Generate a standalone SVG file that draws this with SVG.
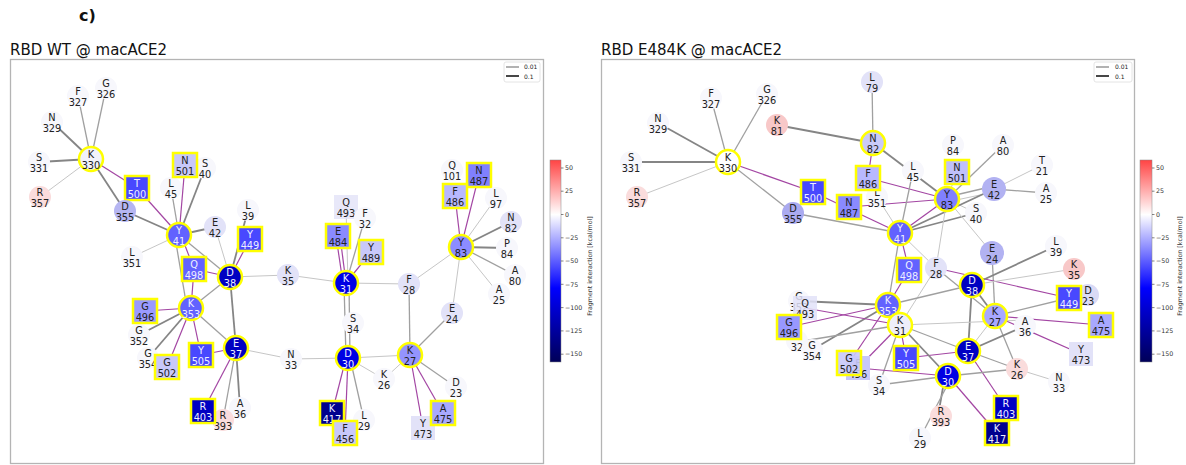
<svg xmlns="http://www.w3.org/2000/svg" width="1186" height="465" viewBox="0 0 1186 465">
<style>
  .title{font-family:"DejaVu Sans","Liberation Sans",sans-serif;font-size:15px;fill:#111}
  .frame{fill:none;stroke:#b4b4b4;stroke-width:1.3}
  .t{font-family:"DejaVu Sans","Liberation Sans",sans-serif;font-size:9.8px;fill:#222;text-anchor:middle}
  .tw{fill:#eeeeff}
  .b{stroke:#ffff00;stroke-width:2.5}
  .c0{fill:#f7f7fc}
  .c1{fill:#e2e2f8}
  .c2{fill:#c8c8fa}
  .c3{fill:#a8a8ff}
  .c35{fill:#8a8aff}
  .c4{fill:#6262ff}
  .c5{fill:#4848ff}
  .c6{fill:#0000e4}
  .c7{fill:#0000c2}
  .c8{fill:#00008e}
  .cw{fill:#f2f2fb}
  .r1{fill:#fadcdc}
  .r2{fill:#f8c8c8}
  .g1{stroke:#c6c6c6;stroke-width:1}
  .g2{stroke:#a0a0a0;stroke-width:1.3}
  .g3{stroke:#858585;stroke-width:1.8}
  .p{stroke:#a346a3;stroke-width:1.2}
  .lg{font-family:"DejaVu Sans","Liberation Sans",sans-serif;font-size:6px;fill:#222}
  .tick{font-family:"DejaVu Sans","Liberation Sans",sans-serif;font-size:6.3px;fill:#333}
  .cbl{font-family:"DejaVu Sans","Liberation Sans",sans-serif;font-size:6.3px;fill:#333;text-anchor:middle}
</style>
<defs>
  <linearGradient id="seismic" x1="0" y1="0" x2="0" y2="1">
    <stop offset="0" stop-color="#ff4444"/>
    <stop offset="0.27" stop-color="#ffffff"/>
    <stop offset="0.634" stop-color="#0000ff"/>
    <stop offset="1" stop-color="#000058"/>
  </linearGradient>
</defs>
<rect width="1186" height="465" fill="#ffffff"/>
<text x="79" y="21" font-family="DejaVu Sans, Liberation Sans, sans-serif" font-size="16" font-weight="bold" fill="#111">c)</text>

<!-- panel titles and frames -->
<text class="title" x="10" y="55">RBD WT @ macACE2</text>
<rect class="frame" x="10.5" y="59.5" width="533" height="404"/>
<text class="title" x="601" y="55">RBD E484K @ macACE2</text>
<rect class="frame" x="601.5" y="59.5" width="533" height="404"/>

<!-- legends -->
<g id="legend-wt">
  <rect x="504" y="62" width="36" height="20" rx="2" fill="#fff" stroke="#dddddd" stroke-width="0.8"/>
  <line x1="506" y1="67" x2="519" y2="67" stroke="#888" stroke-width="1.3"/>
  <text class="lg" x="524" y="69">0.01</text>
  <line x1="506" y1="76" x2="519" y2="76" stroke="#333" stroke-width="1.8"/>
  <text class="lg" x="524" y="78.5">0.1</text>
</g>
<g id="legend-e484k">
  <rect x="1094" y="62" width="38" height="20" rx="2" fill="#fff" stroke="#dddddd" stroke-width="0.8"/>
  <line x1="1096" y1="67" x2="1109" y2="67" stroke="#888" stroke-width="1.3"/>
  <text class="lg" x="1115" y="69">0.01</text>
  <line x1="1096" y1="76" x2="1109" y2="76" stroke="#333" stroke-width="1.8"/>
  <text class="lg" x="1115" y="78.5">0.1</text>
</g>

<!-- colour bars -->
<g id="colorbar-wt">
  <rect x="550" y="160" width="11" height="202" fill="url(#seismic)" stroke="#888" stroke-width="0.5"/>
  <g stroke="#333" stroke-width="0.6">
    <line x1="561" y1="168" x2="563.5" y2="168"/><line x1="561" y1="191.2" x2="563.5" y2="191.2"/>
    <line x1="561" y1="214.5" x2="563.5" y2="214.5"/><line x1="561" y1="237.8" x2="563.5" y2="237.8"/>
    <line x1="561" y1="261" x2="563.5" y2="261"/><line x1="561" y1="284.3" x2="563.5" y2="284.3"/>
    <line x1="561" y1="307.6" x2="563.5" y2="307.6"/><line x1="561" y1="330.9" x2="563.5" y2="330.9"/>
    <line x1="561" y1="354.2" x2="563.5" y2="354.2"/>
  </g>
  <text class="tick" x="565" y="170.2">50</text>
  <text class="tick" x="565" y="193.4">25</text>
  <text class="tick" x="565" y="216.7">0</text>
  <text class="tick" x="565" y="240">−25</text>
  <text class="tick" x="565" y="263.2">−50</text>
  <text class="tick" x="565" y="286.5">−75</text>
  <text class="tick" x="565" y="309.8">−100</text>
  <text class="tick" x="565" y="333.1">−125</text>
  <text class="tick" x="565" y="356.4">−150</text>
  <text class="cbl" transform="translate(592,266) rotate(-90)">Fragment interaction [kcal/mol]</text>
</g>
<g id="colorbar-e484k">
  <rect x="1140" y="160" width="12" height="202" fill="url(#seismic)" stroke="#888" stroke-width="0.5"/>
  <g stroke="#333" stroke-width="0.6">
    <line x1="1152" y1="168" x2="1154.5" y2="168"/><line x1="1152" y1="191.2" x2="1154.5" y2="191.2"/>
    <line x1="1152" y1="214.5" x2="1154.5" y2="214.5"/><line x1="1152" y1="237.8" x2="1154.5" y2="237.8"/>
    <line x1="1152" y1="261" x2="1154.5" y2="261"/><line x1="1152" y1="284.3" x2="1154.5" y2="284.3"/>
    <line x1="1152" y1="307.6" x2="1154.5" y2="307.6"/><line x1="1152" y1="330.9" x2="1154.5" y2="330.9"/>
    <line x1="1152" y1="354.2" x2="1154.5" y2="354.2"/>
  </g>
  <text class="tick" x="1156" y="170.2">50</text>
  <text class="tick" x="1156" y="193.4">25</text>
  <text class="tick" x="1156" y="216.7">0</text>
  <text class="tick" x="1156" y="240">−25</text>
  <text class="tick" x="1156" y="263.2">−50</text>
  <text class="tick" x="1156" y="286.5">−75</text>
  <text class="tick" x="1156" y="309.8">−100</text>
  <text class="tick" x="1156" y="333.1">−125</text>
  <text class="tick" x="1156" y="356.4">−150</text>
  <text class="cbl" transform="translate(1182,266) rotate(-90)">Fragment interaction [kcal/mol]</text>
</g>

<!-- interaction edges -->
<g id="connectors" fill="none">
  <g id="edges-wt">
    <line class="g2" x1="91" y1="159" x2="106" y2="88"/>
    <line class="g2" x1="91" y1="159" x2="78" y2="96"/>
    <line class="g3" x1="91" y1="159" x2="52" y2="122"/>
    <line class="g3" x1="91" y1="159" x2="39" y2="162"/>
    <line class="g1" x1="91" y1="159" x2="40" y2="197"/>
    <line class="g3" x1="91" y1="159" x2="125" y2="211"/>
    <line class="p" x1="91" y1="159" x2="137" y2="188"/>
    <line class="p" x1="137" y1="188" x2="179" y2="235"/>
    <line class="g3" x1="125" y1="211" x2="179" y2="235"/>
    <line class="g2" x1="179" y1="235" x2="171" y2="188"/>
    <line class="p" x1="179" y1="235" x2="185" y2="165"/>
    <line class="g3" x1="179" y1="235" x2="205" y2="168"/>
    <line class="g3" x1="179" y1="235" x2="215" y2="227"/>
    <line class="g1" x1="179" y1="235" x2="132" y2="257"/>
    <line class="g2" x1="179" y1="235" x2="230" y2="277"/>
    <line class="p" x1="181" y1="235" x2="194" y2="269"/>
    <line class="g2" x1="175" y1="237" x2="187" y2="308"/>
    <line class="g1" x1="230" y1="277" x2="215" y2="227"/>
    <line class="g3" x1="230" y1="277" x2="248" y2="210"/>
    <line class="p" x1="230" y1="277" x2="250" y2="239"/>
    <line class="p" x1="230" y1="277" x2="194" y2="269"/>
    <line class="g1" x1="230" y1="277" x2="288" y2="275"/>
    <line class="g2" x1="230" y1="277" x2="191" y2="308"/>
    <line class="g3" x1="230" y1="277" x2="236" y2="348"/>
    <line class="p" x1="191" y1="308" x2="194" y2="269"/>
    <line class="p" x1="191" y1="308" x2="145" y2="311"/>
    <line class="g3" x1="191" y1="308" x2="139" y2="335"/>
    <line class="g3" x1="191" y1="308" x2="148" y2="358"/>
    <line class="p" x1="191" y1="308" x2="167" y2="367"/>
    <line class="p" x1="191" y1="308" x2="201" y2="355"/>
    <line class="g2" x1="191" y1="308" x2="236" y2="348"/>
    <line class="p" x1="236" y1="348" x2="201" y2="355"/>
    <line class="p" x1="236" y1="348" x2="203" y2="411"/>
    <line class="g2" x1="236" y1="348" x2="223" y2="420"/>
    <line class="g3" x1="236" y1="348" x2="240" y2="408"/>
    <line class="g1" x1="236" y1="348" x2="291" y2="359"/>
    <line class="g1" x1="288" y1="275" x2="346" y2="283"/>
    <line class="p" x1="343" y1="283" x2="336" y2="236"/>
    <line class="p" x1="346" y1="283" x2="340" y2="236"/>
    <line class="g1" x1="348" y1="283" x2="346" y2="207"/>
    <line class="g2" x1="346" y1="283" x2="365" y2="218"/>
    <line class="p" x1="346" y1="283" x2="371" y2="252"/>
    <line class="g1" x1="346" y1="283" x2="409" y2="284"/>
    <line class="g2" x1="344" y1="283" x2="346" y2="358"/>
    <line class="g2" x1="349" y1="283" x2="350" y2="358"/>
    <line class="g1" x1="348" y1="358" x2="291" y2="359"/>
    <line class="g1" x1="348" y1="358" x2="410" y2="355"/>
    <line class="g1" x1="348" y1="358" x2="384" y2="379"/>
    <line class="p" x1="346" y1="358" x2="332" y2="413"/>
    <line class="p" x1="348" y1="358" x2="345" y2="433"/>
    <line class="g2" x1="350" y1="358" x2="364" y2="420"/>
    <line class="g1" x1="410" y1="355" x2="384" y2="379"/>
    <line class="g2" x1="410" y1="355" x2="409" y2="284"/>
    <line class="g2" x1="410" y1="355" x2="452" y2="313"/>
    <line class="g2" x1="410" y1="355" x2="456" y2="387"/>
    <line class="p" x1="410" y1="355" x2="443" y2="413"/>
    <line class="p" x1="410" y1="355" x2="423" y2="428"/>
    <line class="g1" x1="409" y1="284" x2="461" y2="247"/>
    <line class="g1" x1="461" y1="247" x2="452" y2="313"/>
    <line class="p" x1="461" y1="247" x2="455" y2="196"/>
    <line class="p" x1="461" y1="247" x2="479" y2="175"/>
    <line class="g1" x1="461" y1="247" x2="496" y2="198"/>
    <line class="g3" x1="461" y1="247" x2="511" y2="222"/>
    <line class="g3" x1="461" y1="247" x2="507" y2="248"/>
    <line class="g2" x1="461" y1="247" x2="515" y2="275"/>
    <line class="g1" x1="461" y1="247" x2="499" y2="294"/>
  </g>
  <g id="edges-e484k">
    <line class="g3" x1="728" y1="162" x2="658" y2="123"/>
    <line class="g2" x1="728" y1="162" x2="711" y2="98"/>
    <line class="g2" x1="728" y1="162" x2="767" y2="94"/>
    <line class="g3" x1="728" y1="162" x2="631" y2="162"/>
    <line class="g1" x1="728" y1="162" x2="637" y2="197"/>
    <line class="g2" x1="728" y1="162" x2="793" y2="213"/>
    <line class="p" x1="728" y1="162" x2="813" y2="192"/>
    <line class="p" x1="813" y1="192" x2="900" y2="233"/>
    <line class="p" x1="849" y1="207" x2="947" y2="199"/>
    <line class="g2" x1="793" y1="213" x2="900" y2="233"/>
    <line class="g3" x1="777" y1="125" x2="873" y2="143"/>
    <line class="g2" x1="872" y1="82" x2="873" y2="143"/>
    <line class="p" x1="873" y1="143" x2="868" y2="178"/>
    <line class="g3" x1="873" y1="143" x2="947" y2="199"/>
    <line class="p" x1="868" y1="178" x2="947" y2="199"/>
    <line class="g2" x1="913" y1="171" x2="900" y2="233"/>
    <line class="g1" x1="877" y1="197" x2="900" y2="233"/>
    <line class="g1" x1="957" y1="172" x2="947" y2="199"/>
    <line class="g2" x1="1003" y1="145" x2="947" y2="199"/>
    <line class="g1" x1="994" y1="189" x2="1042" y2="165"/>
    <line class="g2" x1="994" y1="189" x2="1046" y2="193"/>
    <line class="g2" x1="947" y1="197" x2="994" y2="186"/>
    <line class="g1" x1="947" y1="202" x2="994" y2="192"/>
    <line class="g1" x1="947" y1="199" x2="976" y2="213"/>
    <line class="p" x1="900" y1="233" x2="947" y2="199"/>
    <line class="g3" x1="900" y1="233" x2="994" y2="189"/>
    <line class="g3" x1="900" y1="233" x2="976" y2="213"/>
    <line class="p" x1="900" y1="233" x2="909" y2="270"/>
    <line class="g1" x1="900" y1="233" x2="936" y2="268"/>
    <line class="g2" x1="900" y1="233" x2="888" y2="305"/>
    <line class="g1" x1="947" y1="199" x2="936" y2="268"/>
    <line class="g1" x1="947" y1="199" x2="992" y2="253"/>
    <line class="g2" x1="992" y1="253" x2="995" y2="316"/>
    <line class="p" x1="936" y1="268" x2="1069" y2="298"/>
    <line class="g2" x1="936" y1="268" x2="995" y2="316"/>
    <line class="g1" x1="936" y1="268" x2="900" y2="325"/>
    <line class="g3" x1="972" y1="285" x2="1056" y2="246"/>
    <line class="g1" x1="972" y1="285" x2="1074" y2="269"/>
    <line class="g2" x1="972" y1="285" x2="888" y2="305"/>
    <line class="g3" x1="972" y1="285" x2="968" y2="351"/>
    <line class="g3" x1="972" y1="285" x2="995" y2="316"/>
    <line class="g2" x1="995" y1="316" x2="1069" y2="298"/>
    <line class="p" x1="995" y1="316" x2="1101" y2="325"/>
    <line class="p" x1="995" y1="316" x2="1081" y2="354"/>
    <line class="g2" x1="995" y1="316" x2="1017" y2="369"/>
    <line class="g1" x1="995" y1="316" x2="968" y2="351"/>
    <line class="g3" x1="968" y1="351" x2="1025" y2="326"/>
    <line class="g1" x1="900" y1="325" x2="1025" y2="320"/>
    <line class="g2" x1="968" y1="351" x2="1017" y2="369"/>
    <line class="p" x1="968" y1="351" x2="1006" y2="408"/>
    <line class="p" x1="968" y1="351" x2="906" y2="358"/>
    <line class="g2" x1="968" y1="351" x2="900" y2="325"/>
    <line class="g3" x1="888" y1="305" x2="799" y2="301"/>
    <line class="p" x1="888" y1="305" x2="909" y2="270"/>
    <line class="p" x1="888" y1="305" x2="789" y2="327"/>
    <line class="g3" x1="888" y1="305" x2="812" y2="350"/>
    <line class="p" x1="888" y1="305" x2="849" y2="363"/>
    <line class="p" x1="900" y1="325" x2="805" y2="308"/>
    <line class="g2" x1="900" y1="325" x2="797" y2="342"/>
    <line class="p" x1="900" y1="325" x2="858" y2="368"/>
    <line class="g2" x1="900" y1="325" x2="879" y2="385"/>
    <line class="p" x1="900" y1="325" x2="906" y2="358"/>
    <line class="g3" x1="900" y1="325" x2="948" y2="376"/>
    <line class="g2" x1="948" y1="376" x2="879" y2="385"/>
    <line class="p" x1="948" y1="376" x2="858" y2="368"/>
    <line class="g2" x1="948" y1="376" x2="1017" y2="369"/>
    <line class="g3" x1="945" y1="376" x2="938" y2="416"/>
    <line class="g2" x1="951" y1="378" x2="920" y2="438"/>
    <line class="p" x1="948" y1="376" x2="997" y2="433"/>
    <line class="g1" x1="1017" y1="369" x2="1059" y2="382"/>
  </g>
</g>

<!-- WT residue nodes -->
<g id="wt-G326"><circle class="c0" cx="106" cy="88" r="11"/><text class="t" x="106" y="86.5">G<tspan x="106" dy="11">326</tspan></text></g>
<g id="wt-F327"><circle class="c0" cx="78" cy="96" r="11"/><text class="t" x="78" y="94.5">F<tspan x="78" dy="11">327</tspan></text></g>
<g id="wt-N329"><circle class="c0" cx="52" cy="122" r="11"/><text class="t" x="52" y="120.5">N<tspan x="52" dy="11">329</tspan></text></g>
<g id="wt-S331"><circle class="c0" cx="39" cy="162" r="11"/><text class="t" x="39" y="160.5">S<tspan x="39" dy="11">331</tspan></text></g>
<g id="wt-R357"><circle class="r1" cx="40" cy="197" r="11"/><text class="t" x="40" y="195.5">R<tspan x="40" dy="11">357</tspan></text></g>
<g id="wt-K330"><circle class="cw b" cx="91" cy="159" r="12"/><text class="t" x="91" y="157.5">K<tspan x="91" dy="11">330</tspan></text></g>
<g id="wt-S40"><circle class="c0" cx="205" cy="168" r="11"/><text class="t" x="205" y="166.5">S<tspan x="205" dy="11">40</tspan></text></g>
<g id="wt-L45"><circle class="c0" cx="171" cy="188" r="11"/><text class="t" x="171" y="186.5">L<tspan x="171" dy="11">45</tspan></text></g>
<g id="wt-N501"><rect class="c2 b" x="173" y="153" width="24" height="24"/><text class="t" x="185" y="163.5">N<tspan x="185" dy="11">501</tspan></text></g>
<g id="wt-T500"><rect class="c5 b" x="125" y="176" width="24" height="24"/><text class="t tw" x="137" y="186.5">T<tspan x="137" dy="11">500</tspan></text></g>
<g id="wt-D355"><circle fill="#b6b6f2" cx="125" cy="211" r="11"/><text class="t" x="125" y="209.5">D<tspan x="125" dy="11">355</tspan></text></g>
<g id="wt-E42"><circle class="c1" cx="215" cy="227" r="11"/><text class="t" x="215" y="225.5">E<tspan x="215" dy="11">42</tspan></text></g>
<g id="wt-L39"><circle class="c0" cx="248" cy="210" r="11"/><text class="t" x="248" y="208.5">L<tspan x="248" dy="11">39</tspan></text></g>
<g id="wt-L351"><circle class="c0" cx="132" cy="257" r="11"/><text class="t" x="132" y="255.5">L<tspan x="132" dy="11">351</tspan></text></g>
<g id="wt-Y41"><circle class="c4 b" cx="179" cy="235" r="12"/><text class="t tw" x="179" y="233.5">Y<tspan x="179" dy="11">41</tspan></text></g>
<g id="wt-Y449"><rect class="c5 b" x="238" y="227" width="24" height="24"/><text class="t tw" x="250" y="237.5">Y<tspan x="250" dy="11">449</tspan></text></g>
<g id="wt-Q498"><rect class="c4 b" x="182" y="257" width="24" height="24"/><text class="t tw" x="194" y="267.5">Q<tspan x="194" dy="11">498</tspan></text></g>
<g id="wt-D38"><circle class="c7 b" cx="230" cy="277" r="12"/><text class="t tw" x="230" y="275.5">D<tspan x="230" dy="11">38</tspan></text></g>
<g id="wt-K35"><circle class="c1" cx="288" cy="275" r="11"/><text class="t" x="288" y="273.5">K<tspan x="288" dy="11">35</tspan></text></g>
<g id="wt-G352"><circle class="c0" cx="139" cy="335" r="11"/><text class="t" x="139" y="333.5">G<tspan x="139" dy="11">352</tspan></text></g>
<g id="wt-G354"><circle class="c0" cx="148" cy="358" r="11"/><text class="t" x="148" y="356.5">G<tspan x="148" dy="11">354</tspan></text></g>
<g id="wt-G496"><rect fill="#9a9aff" class="b" x="133" y="299" width="24" height="24"/><text class="t" x="145" y="309.5">G<tspan x="145" dy="11">496</tspan></text></g>
<g id="wt-K353"><circle class="c4 b" cx="191" cy="308" r="12"/><text class="t tw" x="191" y="306.5">K<tspan x="191" dy="11">353</tspan></text></g>
<g id="wt-G502"><rect class="c2 b" x="155" y="355" width="24" height="24"/><text class="t" x="167" y="365.5">G<tspan x="167" dy="11">502</tspan></text></g>
<g id="wt-Y505"><rect class="c5 b" x="189" y="343" width="24" height="24"/><text class="t tw" x="201" y="353.5">Y<tspan x="201" dy="11">505</tspan></text></g>
<g id="wt-E37"><circle class="c7 b" cx="236" cy="348" r="12"/><text class="t tw" x="236" y="346.5">E<tspan x="236" dy="11">37</tspan></text></g>
<g id="wt-A36"><circle class="c0" cx="240" cy="408" r="11"/><text class="t" x="240" y="406.5">A<tspan x="240" dy="11">36</tspan></text></g>
<g id="wt-R393"><circle class="r1" cx="223" cy="420" r="11"/><text class="t" x="223" y="418.5">R<tspan x="223" dy="11">393</tspan></text></g>
<g id="wt-R403"><rect class="c7 b" x="191" y="399" width="24" height="24"/><text class="t tw" x="203" y="409.5">R<tspan x="203" dy="11">403</tspan></text></g>
<g id="wt-Q493"><rect class="c1" x="334" y="195" width="24" height="24" fill-opacity="0.8"/><text class="t" x="346" y="205.5">Q<tspan x="346" dy="11">493</tspan></text></g>
<g id="wt-F32"><circle class="c0" cx="365" cy="218" r="11"/><text class="t" x="365" y="216.5">F<tspan x="365" dy="11">32</tspan></text></g>
<g id="wt-E484"><rect class="c35 b" x="326" y="224" width="24" height="24"/><text class="t" x="338" y="234.5">E<tspan x="338" dy="11">484</tspan></text></g>
<g id="wt-Y489"><rect class="c2 b" x="359" y="240" width="24" height="24"/><text class="t" x="371" y="250.5">Y<tspan x="371" dy="11">489</tspan></text></g>
<g id="wt-K31"><circle class="c6 b" cx="346" cy="283" r="12"/><text class="t tw" x="346" y="281.5">K<tspan x="346" dy="11">31</tspan></text></g>
<g id="wt-F28"><circle class="c1" cx="409" cy="284" r="11"/><text class="t" x="409" y="282.5">F<tspan x="409" dy="11">28</tspan></text></g>
<g id="wt-Q101"><circle class="c0" cx="452" cy="170" r="11"/><text class="t" x="452" y="168.5">Q<tspan x="452" dy="11">101</tspan></text></g>
<g id="wt-N487"><rect fill="#8080ff" class="b" x="467" y="163" width="24" height="24"/><text class="t" x="479" y="173.5">N<tspan x="479" dy="11">487</tspan></text></g>
<g id="wt-F486"><rect fill="#b8b8ff" class="b" x="443" y="184" width="24" height="24"/><text class="t" x="455" y="194.5">F<tspan x="455" dy="11">486</tspan></text></g>
<g id="wt-L97"><circle class="c0" cx="496" cy="198" r="11"/><text class="t" x="496" y="196.5">L<tspan x="496" dy="11">97</tspan></text></g>
<g id="wt-N82"><circle class="c1" cx="511" cy="222" r="11"/><text class="t" x="511" y="220.5">N<tspan x="511" dy="11">82</tspan></text></g>
<g id="wt-P84"><circle class="c0" cx="507" cy="248" r="11"/><text class="t" x="507" y="246.5">P<tspan x="507" dy="11">84</tspan></text></g>
<g id="wt-A80"><circle class="c0" cx="515" cy="275" r="11"/><text class="t" x="515" y="273.5">A<tspan x="515" dy="11">80</tspan></text></g>
<g id="wt-A25"><circle class="c0" cx="499" cy="294" r="11"/><text class="t" x="499" y="292.5">A<tspan x="499" dy="11">25</tspan></text></g>
<g id="wt-Y83"><circle fill="#8c8cff" class="b" cx="461" cy="247" r="12"/><text class="t" x="461" y="245.5">Y<tspan x="461" dy="11">83</tspan></text></g>
<g id="wt-E24"><circle class="c1" cx="452" cy="313" r="11"/><text class="t" x="452" y="311.5">E<tspan x="452" dy="11">24</tspan></text></g>
<g id="wt-S34"><circle class="c0" cx="353" cy="323" r="11"/><text class="t" x="353" y="321.5">S<tspan x="353" dy="11">34</tspan></text></g>
<g id="wt-N33"><circle class="c0" cx="291" cy="359" r="11"/><text class="t" x="291" y="357.5">N<tspan x="291" dy="11">33</tspan></text></g>
<g id="wt-K26"><circle class="c0" cx="384" cy="379" r="11"/><text class="t" x="384" y="377.5">K<tspan x="384" dy="11">26</tspan></text></g>
<g id="wt-D23"><circle class="c0" cx="456" cy="387" r="11"/><text class="t" x="456" y="385.5">D<tspan x="456" dy="11">23</tspan></text></g>
<g id="wt-D30"><circle class="c6 b" cx="348" cy="358" r="12"/><text class="t tw" x="348" y="356.5">D<tspan x="348" dy="11">30</tspan></text></g>
<g id="wt-K27"><circle fill="#9494ff" class="b" cx="410" cy="355" r="12"/><text class="t" x="410" y="353.5">K<tspan x="410" dy="11">27</tspan></text></g>
<g id="wt-L29"><circle class="c0" cx="364" cy="420" r="11"/><text class="t" x="364" y="418.5">L<tspan x="364" dy="11">29</tspan></text></g>
<g id="wt-K417"><rect class="c8 b" x="320" y="401" width="24" height="24"/><text class="t tw" x="332" y="411.5">K<tspan x="332" dy="11">417</tspan></text></g>
<g id="wt-F456"><rect class="c2 b" x="333" y="421" width="24" height="24"/><text class="t" x="345" y="431.5">F<tspan x="345" dy="11">456</tspan></text></g>
<g id="wt-Y473"><rect class="c1" x="411" y="416" width="24" height="24"/><text class="t" x="423" y="426.5">Y<tspan x="423" dy="11">473</tspan></text></g>
<g id="wt-A475"><rect class="c3 b" x="431" y="401" width="24" height="24"/><text class="t" x="443" y="411.5">A<tspan x="443" dy="11">475</tspan></text></g>

<!-- E484K residue nodes -->
<g id="mut-L79"><circle class="c1" cx="872" cy="82" r="11"/><text class="t" x="872" y="80.5">L<tspan x="872" dy="11">79</tspan></text></g>
<g id="mut-F327"><circle class="c0" cx="711" cy="98" r="11"/><text class="t" x="711" y="96.5">F<tspan x="711" dy="11">327</tspan></text></g>
<g id="mut-G326"><circle class="c0" cx="767" cy="94" r="11"/><text class="t" x="767" y="92.5">G<tspan x="767" dy="11">326</tspan></text></g>
<g id="mut-N329"><circle class="c0" cx="658" cy="123" r="11"/><text class="t" x="658" y="121.5">N<tspan x="658" dy="11">329</tspan></text></g>
<g id="mut-K81"><circle class="r2" cx="777" cy="125" r="11"/><text class="t" x="777" y="123.5">K<tspan x="777" dy="11">81</tspan></text></g>
<g id="mut-S331"><circle class="c0" cx="631" cy="162" r="11"/><text class="t" x="631" y="160.5">S<tspan x="631" dy="11">331</tspan></text></g>
<g id="mut-R357"><circle class="r1" cx="637" cy="197" r="11"/><text class="t" x="637" y="195.5">R<tspan x="637" dy="11">357</tspan></text></g>
<g id="mut-K330"><circle fill="#ffffff" class="b" cx="728" cy="162" r="12"/><text class="t" x="728" y="160.5">K<tspan x="728" dy="11">330</tspan></text></g>
<g id="mut-N82"><circle fill="#cacaf8" class="b" cx="873" cy="143" r="12"/><text class="t" x="873" y="141.5">N<tspan x="873" dy="11">82</tspan></text></g>
<g id="mut-P84"><circle class="c0" cx="953" cy="145" r="11"/><text class="t" x="953" y="143.5">P<tspan x="953" dy="11">84</tspan></text></g>
<g id="mut-A80"><circle class="c0" cx="1003" cy="145" r="11"/><text class="t" x="1003" y="143.5">A<tspan x="1003" dy="11">80</tspan></text></g>
<g id="mut-T21"><circle class="c0" cx="1042" cy="165" r="11"/><text class="t" x="1042" y="163.5">T<tspan x="1042" dy="11">21</tspan></text></g>
<g id="mut-A25"><circle class="c0" cx="1046" cy="193" r="11"/><text class="t" x="1046" y="191.5">A<tspan x="1046" dy="11">25</tspan></text></g>
<g id="mut-L45"><circle class="c0" cx="913" cy="171" r="11"/><text class="t" x="913" y="169.5">L<tspan x="913" dy="11">45</tspan></text></g>
<g id="mut-L351"><circle class="c0" cx="877" cy="197" r="11"/><text class="t" x="877" y="195.5">L<tspan x="877" dy="11">351</tspan></text></g>
<g id="mut-F486"><rect fill="#b8b8ff" class="b" x="856" y="166" width="24" height="24"/><text class="t" x="868" y="176.5">F<tspan x="868" dy="11">486</tspan></text></g>
<g id="mut-N501"><rect fill="#c0c0fa" class="b" x="945" y="160" width="24" height="24"/><text class="t" x="957" y="170.5">N<tspan x="957" dy="11">501</tspan></text></g>
<g id="mut-S40"><circle class="c0" cx="976" cy="213" r="11"/><text class="t" x="976" y="211.5">S<tspan x="976" dy="11">40</tspan></text></g>
<g id="mut-E42"><circle fill="#b2b2f2" cx="994" cy="189" r="12"/><text class="t" x="994" y="187.5">E<tspan x="994" dy="11">42</tspan></text></g>
<g id="mut-T500"><rect class="c5 b" x="801" y="180" width="24" height="24"/><text class="t tw" x="813" y="190.5">T<tspan x="813" dy="11">500</tspan></text></g>
<g id="mut-D355"><circle fill="#aaaaf0" cx="793" cy="213" r="11"/><text class="t" x="793" y="211.5">D<tspan x="793" dy="11">355</tspan></text></g>
<g id="mut-N487"><rect class="c35 b" x="837" y="195" width="24" height="24"/><text class="t" x="849" y="205.5">N<tspan x="849" dy="11">487</tspan></text></g>
<g id="mut-Y83"><circle fill="#8080ff" class="b" cx="947" cy="199" r="12"/><text class="t" x="947" y="197.5">Y<tspan x="947" dy="11">83</tspan></text></g>
<g id="mut-Y41"><circle class="c4 b" cx="900" cy="233" r="12"/><text class="t tw" x="900" y="231.5">Y<tspan x="900" dy="11">41</tspan></text></g>
<g id="mut-L39"><circle class="c0" cx="1056" cy="246" r="11"/><text class="t" x="1056" y="244.5">L<tspan x="1056" dy="11">39</tspan></text></g>
<g id="mut-E24"><circle fill="#b2b2f2" cx="992" cy="253" r="12"/><text class="t" x="992" y="251.5">E<tspan x="992" dy="11">24</tspan></text></g>
<g id="mut-K35"><circle class="r2" cx="1074" cy="269" r="11"/><text class="t" x="1074" y="267.5">K<tspan x="1074" dy="11">35</tspan></text></g>
<g id="mut-F28"><circle class="c1" cx="936" cy="268" r="11"/><text class="t" x="936" y="266.5">F<tspan x="936" dy="11">28</tspan></text></g>
<g id="mut-Q498"><rect class="c4 b" x="897" y="258" width="24" height="24"/><text class="t tw" x="909" y="268.5">Q<tspan x="909" dy="11">498</tspan></text></g>
<g id="mut-D38"><circle class="c7 b" cx="972" cy="285" r="12"/><text class="t tw" x="972" y="283.5">D<tspan x="972" dy="11">38</tspan></text></g>
<g id="mut-D23"><circle fill="#dadaf6" cx="1088" cy="295" r="11"/><text class="t" x="1088" y="293.5">D<tspan x="1088" dy="11">23</tspan></text></g>
<g id="mut-Y449"><rect class="c5 b" x="1057" y="286" width="24" height="24"/><text class="t tw" x="1069" y="296.5">Y<tspan x="1069" dy="11">449</tspan></text></g>
<g id="mut-A36"><circle class="c0" cx="1025" cy="326" r="11"/><text class="t" x="1025" y="324.5">A<tspan x="1025" dy="11">36</tspan></text></g>
<g id="mut-A475"><rect class="c3 b" x="1089" y="313" width="24" height="24"/><text class="t" x="1101" y="323.5">A<tspan x="1101" dy="11">475</tspan></text></g>
<g id="mut-Y473"><rect class="c1" x="1069" y="342" width="24" height="24"/><text class="t" x="1081" y="352.5">Y<tspan x="1081" dy="11">473</tspan></text></g>
<g id="mut-K27"><circle class="c3 b" cx="995" cy="316" r="12"/><text class="t" x="995" y="314.5">K<tspan x="995" dy="11">27</tspan></text></g>
<g id="mut-G352"><circle class="c0" cx="799" cy="301" r="11"/><text class="t" x="799" y="299.5">G<tspan x="799" dy="11">352</tspan></text></g>
<g id="mut-Q493"><rect class="c1" x="793" y="296" width="24" height="24" fill-opacity="0.85"/><text class="t" x="805" y="306.5">Q<tspan x="805" dy="11">493</tspan></text></g>
<g id="mut-F32"><circle class="c0" cx="797" cy="341" r="11"/><text class="t" x="797" y="339.5">F<tspan x="797" dy="11">32</tspan></text></g>
<g id="mut-G496"><rect fill="#9898ff" class="b" x="777" y="315" width="24" height="24"/><text class="t" x="789" y="325.5">G<tspan x="789" dy="11">496</tspan></text></g>
<g id="mut-G354"><circle class="c0" cx="812" cy="350" r="11"/><text class="t" x="812" y="348.5">G<tspan x="812" dy="11">354</tspan></text></g>
<g id="mut-K353"><circle class="c4 b" cx="888" cy="305" r="12"/><text class="t tw" x="888" y="303.5">K<tspan x="888" dy="11">353</tspan></text></g>
<g id="mut-K31"><circle fill="#eeeefa" class="b" cx="900" cy="325" r="12"/><text class="t" x="900" y="323.5">K<tspan x="900" dy="11">31</tspan></text></g>
<g id="mut-S34"><circle class="c0" cx="879" cy="385" r="11"/><text class="t" x="879" y="383.5">S<tspan x="879" dy="11">34</tspan></text></g>
<g id="mut-F456"><rect class="c2" x="846" y="356" width="24" height="24"/><text class="t" x="858" y="366.5">F<tspan x="858" dy="11">456</tspan></text></g>
<g id="mut-G502"><rect class="c2 b" x="837" y="351" width="24" height="24" fill-opacity="0.9"/><text class="t" x="849" y="361.5">G<tspan x="849" dy="11">502</tspan></text></g>
<g id="mut-Y505"><rect class="c5 b" x="894" y="346" width="24" height="24"/><text class="t tw" x="906" y="356.5">Y<tspan x="906" dy="11">505</tspan></text></g>
<g id="mut-K26"><circle class="r1" cx="1017" cy="369" r="11"/><text class="t" x="1017" y="367.5">K<tspan x="1017" dy="11">26</tspan></text></g>
<g id="mut-N33"><circle class="c0" cx="1059" cy="382" r="11"/><text class="t" x="1059" y="380.5">N<tspan x="1059" dy="11">33</tspan></text></g>
<g id="mut-E37"><circle class="c7 b" cx="968" cy="351" r="12"/><text class="t tw" x="968" y="349.5">E<tspan x="968" dy="11">37</tspan></text></g>
<g id="mut-D30"><circle class="c6 b" cx="948" cy="376" r="12"/><text class="t tw" x="948" y="374.5">D<tspan x="948" dy="11">30</tspan></text></g>
<g id="mut-L29"><circle class="c0" cx="920" cy="438" r="11"/><text class="t" x="920" y="436.5">L<tspan x="920" dy="11">29</tspan></text></g>
<g id="mut-R393"><circle class="r1" cx="941" cy="416" r="11"/><text class="t" x="941" y="414.5">R<tspan x="941" dy="11">393</tspan></text></g>
<g id="mut-R403"><rect class="c7 b" x="994" y="396" width="24" height="24"/><text class="t tw" x="1006" y="406.5">R<tspan x="1006" dy="11">403</tspan></text></g>
<g id="mut-K417"><rect class="c8 b" x="985" y="421" width="24" height="24"/><text class="t tw" x="997" y="431.5">K<tspan x="997" dy="11">417</tspan></text></g>
</svg>
